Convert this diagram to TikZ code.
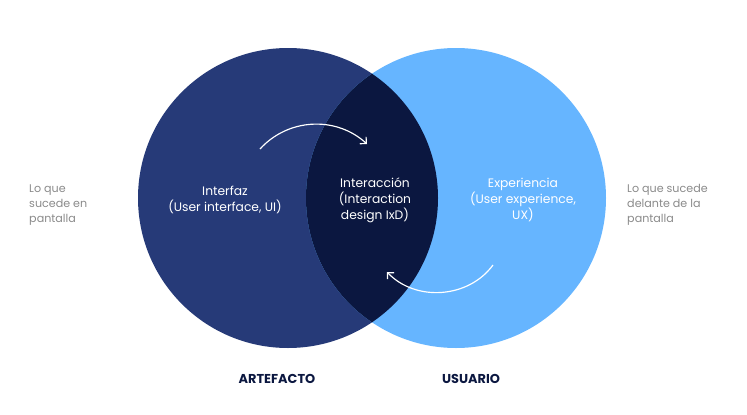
\documentclass[tikz,border=0pt]{standalone}
\usepackage{fontspec}
\setmainfont{Poppins}
\usetikzlibrary{arrows.meta}
\definecolor{artblue}{HTML}{263A78}
\definecolor{usrblue}{HTML}{66B5FF}
\definecolor{ixdblue}{HTML}{0B1740}
\definecolor{sidegray}{HTML}{8A8A8A}
\begin{document}
\begin{tikzpicture}[x=0.03cm, y=-0.03cm, inner sep=0pt,
  inlabel/.style={text=white, align=center, font=\fontsize{10.5}{13.5}\selectfont},
  sidelabel/.style={text=sidegray, align=left, anchor=west, font=\fontsize{9.5}{13}\selectfont},
  setlabel/.style={text=ixdblue, font=\bfseries\fontsize{11}{12}\selectfont},
  flow/.style={white, line width=1pt, -{Straight Barb[length=4pt,width=8pt]}}]
\useasboundingbox (0,0) rectangle (747,414);

\fill[artblue] (288,198) circle [radius=150];
\fill[usrblue] (456,198) circle [radius=150];
\begin{scope}
  \clip (288,198) circle [radius=150];
  \fill[ixdblue] (456,198) circle [radius=150];
\end{scope}

\node [inlabel] (ui) at (225,200) {Interfaz\\(User interface, UI)};
\node [inlabel] (ixd) at (375,200) {Interacción\\(Interaction\\design IxD)};
\node [inlabel] (ux) at (523,200) {Experiencia\\(User experience,\\UX)};
\node [sidelabel] (left) at (29,205) {Lo que\\sucede en\\pantalla};
\node [sidelabel] (right) at (627,205) {Lo que sucede\\delante de la\\pantalla};
\node [setlabel] (art) at (277,379) {ARTEFACTO};
\node [setlabel] (usr) at (471,379) {USUARIO};

\coordinate (a1) at (260,149);
\coordinate (a2) at (367,144);
\coordinate (b1) at (493,265);
\coordinate (b2) at (387,272);
\draw [flow] (a1) to[bend left=45] (a2);
\draw [flow] (b1) to[bend left=50] (b2);
\end{tikzpicture}
\end{document}
